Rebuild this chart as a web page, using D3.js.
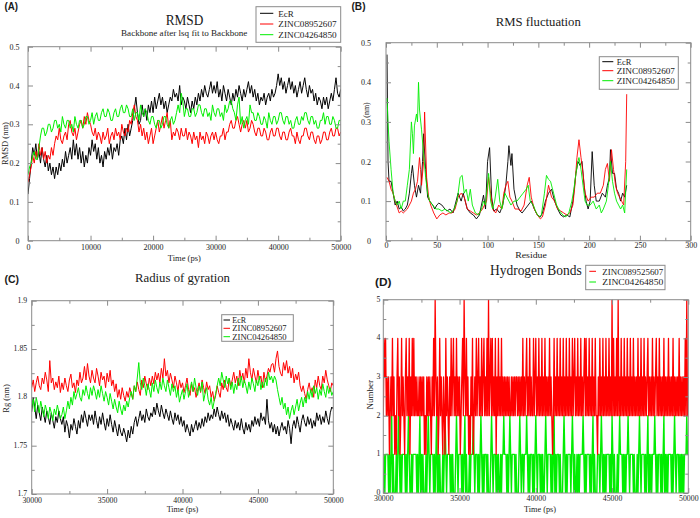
<!DOCTYPE html>
<html><head><meta charset="utf-8">
<script src="https://cdn.jsdelivr.net/npm/d3@7"></script>
<style>
body{margin:0;background:#fff}
svg{display:block}
text{font-family:"Liberation Serif","Times New Roman",serif;fill:#1a1a1a}
</style>
</head><body>
<svg id="chart" width="700" height="518"></svg>
<script>
// ---------------- DATA ----------------
const seriesNames = ["EcR", "ZINC08952607", "ZINC04264850"];
const hbNames = ["ZINC089525607", "ZINC04264850"];

// (A) RMSD in hundredths of nm, sampled every 250 ps from 0 to 50000 ps
const rmsdStep = 250;
const rmsdEcR = [12,16,20,24,22,25,21,23,20,24,21,19,22,18,20,17,19,16,19,17,
 20,18,21,19,23,20,22,24,21,26,22,25,21,24,20,23,19,22,20,24,
 22,26,23,25,21,24,20,22,19,23,21,24,22,25,21,24,23,25,22,26,
 27,25,29,26,30,27,29,31,34,37,33,30,31,35,32,34,31,35,33,36,
 33,37,34,36,38,35,37,34,36,33,35,37,36,39,37,38,36,40,35,37,
 36,34,37,35,33,36,34,37,35,38,36,39,37,40,38,37,39,41,38,40,
 38,41,37,39,36,40,38,36,39,37,35,38,36,39,37,40,38,36,39,37,
 39,41,38,40,37,39,36,38,35,37,36,38,35,37,38,36,39,37,38,40,
 43,40,42,39,41,38,40,42,39,41,38,40,37,39,41,38,40,42,39,37,
 40,38,39,36,38,35,37,36,34,37,35,37,34,36,38,36,39,42,38,37,
 39];
const rmsdZ089 = [15,17,19,22,20,23,21,25,22,24,21,23,20,22,21,24,22,25,27,26,
 29,26,25,27,28,26,30,31,28,27,29,26,28,30,31,29,32,30,33,31,
 30,28,27,29,26,28,27,25,28,26,27,29,25,27,28,26,29,27,28,26,
 30,28,27,29,28,31,30,33,35,32,31,28,30,27,29,26,28,25,27,29,
 25,27,29,31,28,30,32,29,31,33,29,31,26,28,27,29,28,26,29,27,
 27,29,26,28,27,25,28,26,27,24,28,26,27,25,28,27,25,27,28,26,
 28,26,25,27,27,29,26,28,28,30,31,29,29,31,32,30,28,30,31,29,
 31,28,29,31,30,28,27,29,29,27,27,29,28,26,26,28,29,27,27,29,
 29,27,26,28,28,26,26,28,29,27,27,25,28,26,25,27,27,29,29,27,
 26,28,28,26,25,27,27,25,26,28,28,26,26,28,29,27,27,29,29,27,
 28];
const rmsdZ042 = [17,19,20,22,23,21,21,24,27,29,29,27,28,30,30,28,29,31,31,29,
 30,28,32,30,29,31,31,29,30,28,32,30,29,31,31,29,30,32,32,30,
 31,33,30,32,33,31,31,33,34,32,32,34,33,31,31,33,34,32,32,34,
 35,33,33,35,34,32,32,34,31,33,33,31,35,33,32,34,33,31,30,32,
 32,30,29,31,31,29,30,32,32,30,29,31,32,30,31,33,35,33,38,36,
 32,34,34,32,32,34,34,32,33,35,35,33,32,34,34,32,33,31,35,33,
 32,34,34,32,33,31,35,33,34,36,36,34,33,31,35,37,30,32,29,31,
 32,30,35,33,33,31,31,33,32,30,30,32,31,29,33,31,30,32,32,30,
 31,33,33,31,30,32,32,30,31,29,29,31,32,30,30,32,31,33,33,31,
 30,32,32,30,31,29,29,31,31,33,30,32,32,30,30,32,31,29,29,31,
 31];

// (B) RMS fluctuation, [residue, nm]
const rmsfEcR = [[1,.47],[2,.2],[3,.15],[5,.15],[7,.12],[9,.09],[11,.1],[13,.08],[15,.085],[17,.075],[19,.08],[21,.09],[23,.12],[25,.17],[26,.19],[28,.14],[30,.11],[32,.14],[34,.12],[36,.2],[37,.27],[39,.18],[41,.11],[43,.1],[46,.09],[48,.08],[50,.09],[52,.095],[55,.09],[58,.08],[60,.075],[63,.08],[66,.07],[68,.09],[71,.12],[74,.1],[76,.12],[78,.1],[80,.08],[83,.07],[86,.065],[89,.055],[92,.065],[94,.09],[96,.115],[98,.08],[100,.2],[102,.235],[104,.11],[106,.075],[109,.08],[112,.07],[115,.09],[118,.14],[120,.2],[121,.24],[123,.19],[124,.22],[126,.13],[129,.09],[132,.075],[134,.07],[137,.08],[140,.09],[143,.1],[146,.08],[149,.065],[152,.06],[154,.07],[157,.1],[160,.12],[163,.13],[166,.1],[169,.08],[172,.065],[175,.06],[178,.065],[181,.06],[184,.1],[187,.17],[189,.2],[191,.19],[193,.2],[195,.14],[197,.1],[199,.08],[201,.1],[203,.225],[205,.14],[207,.1],[210,.1],[213,.12],[216,.11],[218,.14],[220,.16],[221,.23],[223,.17],[225,.17],[227,.13],[229,.12],[231,.1],[233,.12],[235,.11],[237,.14]];
const rmsfZ089 = [[1,.16],[3,.15],[5,.13],[7,.12],[9,.1],[11,.085],[13,.07],[15,.075],[17,.07],[19,.075],[21,.08],[23,.09],[25,.1],[27,.12],[29,.13],[31,.15],[33,.21],[34,.18],[35,.14],[37,.2],[38,.325],[40,.16],[42,.11],[44,.09],[47,.07],[50,.055],[53,.065],[56,.07],[59,.065],[62,.07],[65,.07],[68,.08],[71,.11],[74,.12],[77,.11],[80,.08],[83,.075],[86,.07],[89,.065],[92,.07],[95,.08],[97,.09],[99,.1],[101,.16],[103,.12],[105,.08],[108,.07],[111,.09],[114,.08],[116,.12],[118,.14],[120,.15],[122,.11],[124,.1],[127,.08],[130,.08],[133,.075],[136,.09],[139,.14],[141,.16],[143,.11],[146,.08],[149,.065],[152,.055],[154,.06],[157,.09],[160,.14],[163,.11],[166,.1],[169,.08],[172,.075],[175,.07],[178,.065],[181,.07],[184,.09],[186,.14],[188,.21],[190,.255],[192,.21],[194,.17],[196,.12],[199,.1],[202,.11],[205,.11],[208,.12],[211,.12],[214,.14],[216,.18],[218,.195],[220,.15],[222,.23],[224,.18],[226,.14],[228,.12],[230,.11],[232,.1],[234,.09],[236,.2],[237,.37]];
const rmsfZ042 = [[1,.36],[2,.3],[3,.25],[5,.18],[7,.12],[9,.1],[11,.09],[13,.1],[15,.08],[17,.1],[19,.1],[21,.14],[23,.18],[25,.3],[26,.27],[27,.22],[28,.29],[30,.32],[31,.3],[32,.4],[33,.33],[35,.28],[37,.22],[39,.16],[41,.12],[43,.1],[46,.09],[49,.08],[52,.08],[55,.075],[58,.08],[61,.075],[64,.07],[67,.08],[70,.1],[73,.16],[75,.165],[77,.12],[79,.13],[81,.1],[83,.13],[85,.09],[88,.07],[91,.065],[94,.08],[96,.1],[98,.09],[101,.17],[103,.1],[105,.08],[107,.1],[110,.155],[112,.1],[114,.08],[117,.12],[119,.11],[121,.1],[123,.09],[126,.1],[129,.1],[132,.11],[135,.12],[138,.13],[140,.14],[142,.1],[145,.09],[148,.07],[151,.06],[153,.065],[156,.12],[158,.165],[160,.155],[162,.15],[165,.12],[168,.09],[171,.075],[174,.065],[177,.06],[180,.07],[183,.1],[185,.13],[187,.17],[189,.2],[190,.21],[192,.18],[194,.14],[196,.1],[198,.09],[201,.09],[204,.1],[207,.08],[210,.09],[212,.07],[214,.08],[217,.1],[219,.14],[221,.2],[223,.15],[225,.12],[227,.1],[229,.09],[231,.08],[233,.09],[235,.07],[237,.18]];

// (C) Radius of gyration in thousandths of nm, every 100 ps from 30000 to 50000 ps
const rgStart = 30000, rgStep = 100;
const rgEcR = [1785,1800,1790,1778,1792,1784,1776,1790,1782,1774,1786,1780,1772,1784,1776,1768,1780,1774,1786,1778,
 1772,1780,1764,1776,1770,1758,1772,1766,1778,1770,1762,1776,1768,1782,1774,1786,1778,1770,1782,1776,
 1782,1772,1786,1776,1768,1780,1772,1784,1774,1766,1778,1770,1782,1772,1764,1776,1768,1760,1772,1764,
 1760,1768,1762,1754,1766,1758,1770,1762,1774,1780,1770,1778,1786,1776,1782,1774,1788,1780,1776,1784,
 1780,1790,1782,1794,1786,1780,1792,1784,1778,1788,1782,1776,1786,1778,1772,1784,1776,1782,1772,1780,
 1770,1776,1764,1772,1766,1760,1772,1764,1770,1776,1766,1774,1768,1778,1770,1780,1774,1784,1776,1782,
 1778,1788,1780,1790,1782,1776,1786,1778,1784,1774,1782,1770,1778,1772,1766,1776,1768,1774,1766,1778,
 1768,1762,1774,1766,1772,1764,1776,1770,1780,1772,1778,1770,1784,1776,1780,1772,1798,1776,1768,1774,
 1764,1772,1762,1770,1760,1768,1774,1766,1770,1762,1776,1768,1752,1770,1776,1768,1780,1772,1764,1776,
 1782,1774,1770,1780,1772,1778,1768,1776,1770,1784,1776,1782,1772,1780,1774,1786,1778,1772,1784,1790,
 1788];
const rgZ089 = [1810,1818,1806,1815,1822,1812,1808,1820,1814,1826,1818,1806,1838,1815,1820,1808,1816,1810,1822,1805,
 1815,1808,1820,1812,1806,1818,1824,1810,1815,1805,1818,1812,1826,1815,1820,1832,1818,1835,1822,1815,
 1828,1820,1815,1830,1822,1812,1826,1818,1822,1810,1825,1816,1828,1812,1818,1806,1814,1800,1808,1798,
 1810,1802,1796,1806,1800,1810,1804,1798,1812,1806,1816,1808,1802,1818,1810,1822,1814,1808,1820,1812,
 1822,1814,1826,1818,1825,1815,1830,1820,1840,1822,1828,1815,1825,1818,1810,1822,1815,1806,1818,1810,
 1815,1805,1812,1820,1808,1802,1814,1806,1810,1800,1808,1815,1805,1818,1810,1804,1816,1808,1812,1800,
 1806,1796,1802,1812,1805,1800,1815,1808,1818,1810,1806,1820,1812,1818,1826,1815,1822,1812,1828,1818,
 1825,1815,1830,1820,1840,1826,1818,1830,1822,1815,1828,1818,1822,1810,1826,1816,1822,1830,1826,1834,
 1835,1826,1840,1848,1832,1825,1822,1836,1828,1838,1825,1832,1820,1830,1815,1824,1818,1826,1812,1806,
 1812,1804,1798,1808,1815,1805,1810,1800,1818,1810,1822,1812,1808,1822,1815,1828,1818,1812,1806,1815,
 1812];
const rgZ042 = [1790,1798,1785,1800,1792,1784,1796,1788,1780,1792,1786,1778,1790,1784,1776,1788,1782,1792,1785,1778,
 1782,1790,1778,1786,1796,1788,1800,1792,1806,1798,1804,1810,1800,1796,1808,1802,1812,1804,1798,1810,
 1802,1812,1806,1798,1808,1800,1812,1804,1796,1806,1800,1792,1804,1796,1788,1798,1790,1784,1796,1788,
 1782,1792,1786,1796,1790,1800,1806,1798,1812,1806,1820,1836,1815,1808,1820,1812,1802,1814,1808,1800,
 1815,1806,1818,1810,1804,1816,1808,1820,1812,1806,1818,1810,1802,1814,1806,1812,1800,1808,1795,1802,
 1808,1798,1806,1814,1800,1808,1816,1806,1820,1810,1802,1812,1806,1816,1796,1804,1810,1798,1792,1800,
 1788,1796,1804,1812,1820,1812,1826,1818,1810,1822,1814,1820,1808,1816,1804,1814,1808,1820,1812,1822,
 1810,1818,1812,1804,1816,1808,1820,1814,1806,1818,1812,1822,1808,1816,1810,1820,1812,1826,1818,1822,
 1815,1822,1818,1808,1800,1792,1800,1788,1794,1782,1790,1778,1786,1792,1782,1790,1798,1786,1794,1800,
 1790,1800,1794,1806,1798,1808,1800,1812,1804,1810,1798,1808,1802,1814,1806,1800,1812,1804,1810,1802,
 1806];

// (D) Hydrogen bonds, one digit per frame, every 50 ps from 30000 to 50000 ps
const hbStart = 30000, hbStep = 50;
const hbZ089 = (
 "2434232312324231213423124232134232413242" +
 "4232322323232312132323213242532312423213" +
 "2142321324234232423231234253242312132412" +
 "3242342324234232425234242324132423242323" +
 "2323232232323233232323242323423242322423" +
 "4232423242324232324232124232423242324232" +
 "4232423242342324232423234242324232423242" +
 "2132423242324232423252423242523242324232" +
 "4232423242323242324232423234232324232342" +
 "3242323242323242323242323232423232324252" + "3").split("").map(Number);
const hbZ042 = (
 "0101111010120100010121010111101012100101" +
 "1111010120101000101210111101012010100010" +
 "1210111101010001210111101012010001011121" +
 "0111010121010111010001210111010100101121" +
 "1101012101111010001210110111210101110101" +
 "2101110101001210111101012010111010001210" +
 "1011110121010010101111210101111010120100" +
 "0111012101010111101021010001012111010101" +
 "1210111101000101210111101012010101112101" +
 "0111010120101011110101210111010101011121" + "1").split("").map(Number);

// tick values
const rmsdXTicks = [0,10000,20000,30000,40000,50000];
const rmsdYTicks = [0,0.1,0.2,0.3,0.4,0.5];
const rmsfXTicks = [0,50,100,150,200,250,300];
const rgXTicks = [30000,35000,40000,45000,50000];
const rgYTicks = [1.7,1.75,1.8,1.85,1.9];
const hbYTicks = [0,1,2,3,4,5];

// ---------------- DRAW ----------------
const svg = d3.select("#chart");
const FRAME = "#8a8a8a";
const BLACK = "#000000", RED = "#ff0000", GREEN = "#00ee00";

function txt(g, s, x, y, o = {}) {
  const t = g.append("text").attr("x", x).attr("y", y).text(s)
    .attr("font-size", o.fs || 9).attr("text-anchor", o.anchor || "start");
  if (o.len) t.attr("textLength", o.len).attr("lengthAdjust", "spacingAndGlyphs");
  if (o.rot) t.attr("transform", `rotate(-90,${x},${y})`);
  if (o.bold) t.attr("font-weight", "bold").style("font-family", "'Liberation Sans',Arial,sans-serif");
  return t;
}

function panel(p) {
  const x = d3.scaleLinear().domain(p.xd).range([p.l, p.r]);
  const y = d3.scaleLinear().domain(p.yd).range([p.b, p.t]);
  const g = svg.append("g");
  const cid = "clip" + p.id;
  g.append("clipPath").attr("id", cid).append("rect")
    .attr("x", p.l).attr("y", p.t).attr("width", p.r - p.l).attr("height", p.b - p.t);
  const sg = g.append("g").attr("clip-path", `url(#${cid})`);
  const line = d3.line().x(d => x(d[0])).y(d => y(d[1]));
  p.series.forEach(s => {
    sg.append("path").datum(s.data).attr("fill", "none")
      .attr("stroke", s.color).attr("stroke-width", s.w || 1)
      .attr("stroke-linejoin", "round").attr("d", line);
  });
  const mk = (axis, tr, vals, size, fmt) => {
    const a = g.append("g").attr("transform", tr)
      .call(axis.tickValues(vals).tickSize(-size).tickFormat(fmt || "").tickPadding(0));
    a.select(".domain").remove();
    a.selectAll("line").attr("stroke", FRAME);
    return a;
  };
  const xb = mk(d3.axisBottom(x), `translate(0,${p.b})`, p.xt, 5, p.xf);
  mk(d3.axisBottom(x), `translate(0,${p.b})`, p.xm, 3);
  mk(d3.axisTop(x), `translate(0,${p.t})`, p.xt, 5);
  mk(d3.axisTop(x), `translate(0,${p.t})`, p.xm, 3);
  const yl = mk(d3.axisLeft(y), `translate(${p.l},0)`, p.yt, 5, p.yf);
  mk(d3.axisLeft(y), `translate(${p.l},0)`, p.ym, 3);
  mk(d3.axisRight(y), `translate(${p.r},0)`, p.yt, 5);
  mk(d3.axisRight(y), `translate(${p.r},0)`, p.ym, 3);
  xb.selectAll("text").attr("y", p.xbase).attr("dy", 0).attr("font-size", p.fs)
    .style("font-family", "'Liberation Serif',serif").attr("fill", "#222");
  yl.selectAll("text").attr("x", -p.ypad).attr("dy", p.ydy || "0.32em").attr("font-size", p.fs)
    .style("font-family", "'Liberation Serif',serif").attr("fill", "#222");
  g.append("rect").attr("x", p.l).attr("y", p.t).attr("width", p.r - p.l).attr("height", p.b - p.t)
    .attr("fill", "none").attr("stroke", FRAME).attr("stroke-width", 1);
  const L = p.legend;
  g.append("rect").attr("x", L.x0).attr("y", L.y0).attr("width", L.x1 - L.x0).attr("height", L.y1 - L.y0)
    .attr("fill", "#fff").attr("stroke", FRAME).attr("stroke-width", 1);
  L.items.forEach((it, i) => {
    g.append("line").attr("x1", L.lx0).attr("x2", L.lx1).attr("y1", L.ly[i]).attr("y2", L.ly[i])
      .attr("stroke", it.color).attr("stroke-width", 1);
    txt(g, it.name, L.tx, L.ty[i], { fs: L.fs, len: it.name.length > 4 ? L.len : null });
  });
  return g;
}

const fmtDec = d3.format("~g");
const legend3 = [{ name: seriesNames[0], color: BLACK }, { name: seriesNames[1], color: RED }, { name: seriesNames[2], color: GREEN }];

// (A) RMSD
const gA = panel({
  id: "A", l: 28, r: 340.7, t: 46.7, b: 240.7, xd: [0, 50000], yd: [0, 0.5],
  xt: rmsdXTicks, xm: d3.range(5000, 50000, 10000), yt: rmsdYTicks, ym: [0.05,0.15,0.25,0.35,0.45],
  xf: d3.format("d"), yf: fmtDec, fs: 8, xbase: 9.8, ypad: 8.5,
  series: [
    { color: BLACK, data: rmsdEcR.map((v, i) => [i * rmsdStep, v / 100]) },
    { color: RED, data: rmsdZ089.map((v, i) => [i * rmsdStep, v / 100]) },
    { color: GREEN, data: rmsdZ042.map((v, i) => [i * rmsdStep, v / 100]) }
  ],
  legend: { x0: 256, x1: 340.7, y0: 6.7, y1: 42.3, lx0: 260, lx1: 273.3, ly: [13.3, 24, 34.7],
    tx: 278.3, ty: [16.8, 27.4, 38], fs: 9, len: 58.3, items: legend3 }
});
txt(gA, "RMSD", 184.5, 25, { fs: 14.5, anchor: "middle", len: 37.7 });
txt(gA, "Backbone after lsq fit to Backbone", 184.2, 35.6, { fs: 8, anchor: "middle", len: 126.3 });
txt(gA, "Time (ps)", 184.3, 261, { fs: 9, anchor: "middle", len: 33 });
txt(gA, "RMSD (nm)", 8, 143.5, { fs: 8.5, anchor: "middle", rot: true });
txt(gA, "(A)", 4.5, 10, { fs: 10.5, bold: true, len: 13.5 });

// (B) RMS fluctuation
const gB = panel({
  id: "B", l: 386, r: 690.7, t: 42.7, b: 240.7, xd: [0, 300], yd: [0, 0.5],
  xt: rmsfXTicks, xm: d3.range(25, 300, 50), yt: rmsdYTicks, ym: [0.05,0.15,0.25,0.35,0.45],
  xf: d3.format("d"), yf: fmtDec, fs: 8, xbase: 7, ypad: 15,
  series: [
    { color: BLACK, data: rmsfEcR, w: 0.9 },
    { color: RED, data: rmsfZ089, w: 0.9 },
    { color: GREEN, data: rmsfZ042, w: 0.9 }
  ],
  legend: { x0: 599.3, x1: 678.3, y0: 56.7, y1: 89.3, lx0: 602.3, lx1: 613.3, ly: [61.7, 70.7, 80.7],
    tx: 616.7, ty: [65, 74.2, 83.5], fs: 8.5, len: 58.3, items: legend3 }
});
txt(gB, "RMS fluctuation", 538.3, 26, { fs: 12, anchor: "middle", len: 85 });
txt(gB, "Residue", 531, 258, { fs: 8.5, anchor: "middle", len: 31.7 });
txt(gB, "(nm)", 369, 110, { fs: 8, anchor: "middle", rot: true });
txt(gB, "(B)", 351.5, 10, { fs: 10.5, bold: true, len: 14 });

// (C) Radius of gyration
const gC = panel({
  id: "C", l: 31.7, r: 333.3, t: 300.7, b: 494, xd: [30000, 50000], yd: [1.7, 1.9],
  xt: rgXTicks, xm: [32500, 37500, 42500, 47500], yt: rgYTicks, ym: [1.725, 1.775, 1.825, 1.875],
  xf: d3.format("d"), yf: fmtDec, fs: 7.8, xbase: 9, ypad: 4.5, ydy: "0.2em",
  series: [
    { color: BLACK, data: rgEcR.map((v, i) => [rgStart + i * rgStep, v / 1000]) },
    { color: RED, data: rgZ089.map((v, i) => [rgStart + i * rgStep, v / 1000]) },
    { color: GREEN, data: rgZ042.map((v, i) => [rgStart + i * rgStep, v / 1000]) }
  ],
  legend: { x0: 221.7, x1: 293.3, y0: 314.7, y1: 341.3, lx0: 223.5, lx1: 230, ly: [320, 328.3, 336.7],
    tx: 232.3, ty: [322.8, 331.2, 339.6], fs: 8, len: 54.3, items: legend3 }
});
txt(gC, "Radius of gyration", 182.5, 281.8, { fs: 12, anchor: "middle", len: 95 });
txt(gC, "Time (ps)", 182.5, 511.5, { fs: 8, anchor: "middle", len: 31.7 });
txt(gC, "Rg (nm)", 8.5, 398.5, { fs: 8.5, anchor: "middle", rot: true });
txt(gC, "(C)", 4.5, 283, { fs: 10.5, bold: true, len: 14.5 });

// (D) Hydrogen bonds
const gD = panel({
  id: "D", l: 383.3, r: 688.3, t: 299.7, b: 493, xd: [30000, 50000], yd: [0, 5],
  xt: rgXTicks, xm: [32500, 37500, 42500, 47500], yt: hbYTicks, ym: [0.5,1.5,2.5,3.5,4.5],
  xf: d3.format("d"), yf: d3.format("d"), fs: 7.8, xbase: 8.4, ypad: 3, ydy: "0.2em",
  series: [
    { color: GREEN, data: hbZ042.map((v, i) => [hbStart + i * hbStep, v]), w: 1.4 },
    { color: RED, data: hbZ089.map((v, i) => [hbStart + i * hbStep, v]), w: 1.3 }
  ],
  legend: { x0: 585.7, x1: 665, y0: 265.3, y1: 289.7, lx0: 589.3, lx1: 596, ly: [271.3, 282],
    tx: 602.3, ty: [274.5, 285.2], fs: 8.5, len: 61,
    items: [{ name: hbNames[0], color: RED }, { name: hbNames[1], color: GREEN }] }
});
txt(gD, "Hydrogen Bonds", 535.8, 275.3, { fs: 14, anchor: "middle", len: 91.7 });
txt(gD, "Time (ps)", 540, 511.5, { fs: 8.5, anchor: "middle", len: 32 });
txt(gD, "Number", 373, 394.7, { fs: 9, anchor: "middle", rot: true });
txt(gD, "(D)", 375, 286, { fs: 10.5, bold: true, len: 16.5 });
</script>
</body></html>
